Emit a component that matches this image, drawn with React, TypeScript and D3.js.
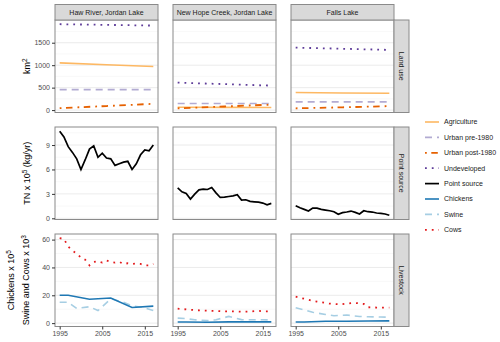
import { useRef, useEffect } from 'react';
import * as d3 from 'd3';

const sites = ['Haw River, Jordan Lake', 'New Hope Creek, Jordan Lake', 'Falls Lake'];
const rowNames = ['Land use', 'Point source', 'Livestock'];
const xTicks = [1995, 2005, 2015];

// land use (km2)
const luYears = [1995, 2006, 2017];
const agriculture = [[1052, 1010, 970], [62, 60, 58], [390, 382, 375]];
const urbanPre = [[456, 456, 456], [147, 147, 147], [183, 183, 183]];
const urbanPost = [[44, 90, 140], [40, 80, 122], [40, 62, 88]];
const undeveloped = [[1912, 1897, 1882], [611, 578, 545], [1390, 1365, 1340]];
const luTicks = [0, 500, 1000, 1500];

// point source TN x 10^5 kg/yr
const psYears = [1995, 1996, 1997, 1998, 1999, 2000, 2001, 2002, 2003, 2004, 2005, 2006,
  2007, 2008, 2009, 2010, 2011, 2012, 2013, 2014, 2015, 2016, 2017];
const pointSource = [
  [10.7, 10.0, 8.8, 8.1, 7.3, 6.0, 7.2, 8.5, 8.9, 7.5, 8.0, 7.4, 7.3, 6.5, 6.7, 6.9, 7.0, 6.0, 6.7, 7.8, 8.4, 8.3, 9.0],
  [3.74, 3.25, 3.05, 2.36, 2.97, 3.5, 3.58, 3.54, 3.79, 3.13, 2.56, 2.6, 2.68, 2.76, 2.89, 2.24, 2.28, 2.08, 2.03, 1.99, 1.87, 1.66, 1.83],
  [1.54, 1.3, 1.1, 0.89, 1.26, 1.25, 1.1, 1.01, 0.93, 0.81, 0.49, 0.69, 0.77, 0.89, 0.73, 0.53, 0.93, 0.81, 0.77, 0.65, 0.61, 0.53, 0.37],
];
const psTicks = [0, 3, 6, 9];

// livestock
const chickenYears = [1995, 1997, 2002, 2007, 2012, 2017];
const chickens = [[20, 20, 17.2, 18, 11.2, 12.2], [0.8, 0.8, 0.6, 0.9, 0.9, 0.9], [0.8, 0.8, 1.3, 1.4, 1.5, 1.6]];
const swineYears = [1995, 1997, 1999, 2002, 2004, 2007, 2010, 2012, 2015, 2017];
const swine = [
  [15, 15, 10.5, 11.8, 9, 17.5, 15, 12.5, 11, 9],
  [3.6, 3.2, 2.4, 1.8, 2.4, 4.8, 2.5, 2.4, 2.4, 2.3],
  [11, 9.5, 7.8, 6.2, 5.3, 5.8, 4.8, 4.6, 4.4, 4.3],
];
const cows = [
  [61, 60.5, 55, 52, 50, 47, 45.5, 41.5, 44, 44.5, 43.5, 45, 44, 43.5, 44, 42.5, 43, 42.5, 42.8, 42.5, 41.5, 41.5, 42.5],
  [10.4, 10.1, 9.9, 9.6, 9.4, 9.2, 9.0, 8.9, 8.8, 8.8, 8.6, 8.5, 8.5, 8.4, 8.3, 8.2, 8.2, 8.3, 8.6, 8.8, 8.5, 8.5, 8.5],
  [19, 18.2, 17.5, 16.8, 16, 15.5, 15, 14.5, 14, 13.8, 13.6, 13.6, 14, 14.3, 14.5, 14.2, 13.8, 11.4, 11.3, 11.2, 11.2, 11.2, 11.2],
];
const lsTicks = [0, 20, 40, 60];

const legendKeys = ['Agriculture', 'Urban pre-1980', 'Urban post-1980', 'Undeveloped', 'Point source', 'Chickens', 'Swine', 'Cows'];

const styles: Record<string, { color: string; dash: string | null; width: number }> = {
  'Agriculture': { color: '#fdb863', dash: null, width: 1.6 },
  'Urban pre-1980': { color: '#b2abd2', dash: '7,5', width: 1.6 },
  'Urban post-1980': { color: '#e66101', dash: '1.8,4.5,6.5,5', width: 1.8 },
  'Undeveloped': { color: '#5e3c99', dash: '1.8,5', width: 1.8 },
  'Point source': { color: '#000000', dash: null, width: 1.7 },
  'Chickens': { color: '#1f78b4', dash: null, width: 1.6 },
  'Swine': { color: '#a6cee3', dash: '7,5', width: 1.6 },
  'Cows': { color: '#e31a1c', dash: '1.8,5', width: 1.8 },
};

const FONT = 'Liberation Sans, Arial, sans-serif';

const App = () => {
  const svgRef = useRef<SVGSVGElement>(null);

  useEffect(() => {
    const svg = d3.select(svgRef.current);
    svg.selectAll('*').remove();

    const colLeft = [55, 173, 291];
    const panelW = 103;
    const rowTop = [20, 127, 234];
    const panelH = 92.5;

    const rows = [
      {
        ticks: luTicks,
        series: [
          { key: 'Agriculture', years: luYears, values: agriculture },
          { key: 'Urban pre-1980', years: luYears, values: urbanPre },
          { key: 'Urban post-1980', years: luYears, values: urbanPost },
          { key: 'Undeveloped', years: luYears, values: undeveloped },
        ],
      },
      {
        ticks: psTicks,
        series: [{ key: 'Point source', years: psYears, values: pointSource }],
      },
      {
        ticks: lsTicks,
        series: [
          { key: 'Swine', years: swineYears, values: swine },
          { key: 'Chickens', years: chickenYears, values: chickens },
          { key: 'Cows', years: psYears, values: cows },
        ],
      },
    ];

    const xr = [1995, 2017];
    const xpad = (xr[1] - xr[0]) * 0.05;

    rows.forEach((row, ri) => {
      const all = row.series.flatMap(s => s.values.flat());
      const [lo, hi] = d3.extent(all) as [number, number];
      const pad = (hi - lo) * 0.05;
      const top = rowTop[ri];
      const y = d3.scaleLinear().domain([lo - pad, hi + pad]).range([top + panelH, top]);
      const minor = row.ticks.slice(0, -1).map((t, i) => (t + row.ticks[i + 1]) / 2)
        .concat([row.ticks[row.ticks.length - 1] + (row.ticks[1] - row.ticks[0]) / 2])
        .filter(v => v < hi + pad);

      sites.forEach((site, ci) => {
        const left = colLeft[ci];
        const x = d3.scaleLinear().domain([xr[0] - xpad, xr[1] + xpad]).range([left, left + panelW]);
        const g = svg.append('g');

        g.append('rect').attr('x', left).attr('y', top).attr('width', panelW).attr('height', panelH)
          .attr('fill', '#fff');

        g.selectAll('.minor').data(minor).enter().append('line')
          .attr('x1', left).attr('x2', left + panelW)
          .attr('y1', d => y(d)).attr('y2', d => y(d))
          .attr('stroke', '#f3f3f3').attr('stroke-width', 0.6);
        g.selectAll('.major').data(row.ticks).enter().append('line')
          .attr('x1', left).attr('x2', left + panelW)
          .attr('y1', d => y(d)).attr('y2', d => y(d))
          .attr('stroke', '#e6e6e6').attr('stroke-width', 0.8);

        row.series.forEach(s => {
          const st = styles[s.key];
          const pts = s.years.map((yr, i) => [yr, s.values[ci][i]] as [number, number]);
          const line = d3.line<[number, number]>().x(d => x(d[0])).y(d => y(d[1]));
          g.append('path').attr('d', line(pts)).attr('fill', 'none')
            .attr('stroke', st.color).attr('stroke-width', st.width)
            .attr('stroke-dasharray', st.dash);
        });

        g.append('rect').attr('x', left).attr('y', top).attr('width', panelW).attr('height', panelH)
          .attr('fill', 'none').attr('stroke', '#8a8a8a').attr('stroke-width', 1);

        // y axis on first column
        if (ci === 0) {
          const ax = g.append('g').attr('transform', `translate(${left},0)`)
            .call(d3.axisLeft(y).tickValues(row.ticks).tickFormat(d3.format('d')).tickSize(3).tickPadding(2));
          ax.select('.domain').remove();
          ax.selectAll('line').attr('stroke', '#333');
          ax.selectAll('text').attr('fill', '#4d4d4d').style('font-size', '7px').style('font-family', FONT);
        }
        // x axis on bottom row
        if (ri === 2) {
          const ax = g.append('g').attr('transform', `translate(0,${top + panelH})`)
            .call(d3.axisBottom(x).tickValues(xTicks).tickFormat(d3.format('d')).tickSize(3).tickPadding(1.5));
          ax.select('.domain').remove();
          ax.selectAll('line').attr('stroke', '#333');
          ax.selectAll('text').attr('fill', '#4d4d4d').style('font-size', '7px').style('font-family', FONT);
        }
        // top strips
        if (ri === 0) {
          g.append('rect').attr('x', left).attr('y', 4.5).attr('width', panelW).attr('height', top - 4.5)
            .attr('fill', '#d9d9d9').attr('stroke', '#8a8a8a').attr('stroke-width', 1);
          g.append('text').attr('x', left + panelW / 2).attr('y', 12.5).attr('dy', '0.35em')
            .attr('text-anchor', 'middle').style('font-size', '7px').style('font-family', FONT)
            .attr('fill', '#1a1a1a').text(site);
        }
        // right strips
        if (ci === 2) {
          const sx = left + panelW;
          g.append('rect').attr('x', sx).attr('y', top).attr('width', 15).attr('height', panelH)
            .attr('fill', '#d9d9d9').attr('stroke', '#8a8a8a').attr('stroke-width', 1);
          g.append('text').attr('transform', `translate(${sx + 7.5},${top + panelH / 2}) rotate(90)`)
            .attr('dy', '0.35em').attr('text-anchor', 'middle').style('font-size', '7px')
            .style('font-family', FONT).attr('fill', '#1a1a1a').text(rowNames[ri]);
        }
      });
    });

    // y titles
    const title = (xPos: number, yPos: number, base: string, sup: string, tail: string) => {
      const t = svg.append('text').attr('transform', `translate(${xPos},${yPos}) rotate(-90)`)
        .attr('text-anchor', 'middle').style('font-size', '9px').style('font-family', FONT).attr('fill', '#000');
      t.append('tspan').text(base);
      t.append('tspan').attr('dy', -3.5).style('font-size', '6.5px').text(sup);
      if (tail) t.append('tspan').attr('dy', 3.5).text(tail);
    };
    title(30, rowTop[0] + panelH / 2, 'km', '2', '');
    title(30, rowTop[1] + panelH / 2, 'TN x 10', '5', ' (kg/yr)');
    title(14, rowTop[2] + panelH / 2, 'Chickens x 10', '5', '');
    title(29, rowTop[2] + panelH / 2, 'Swine and Cows x 10', '3', '');

    // legend
    const lg = svg.append('g').attr('transform', 'translate(424,122)');
    legendKeys.forEach((k, i) => {
      const st = styles[k];
      const yy = i * 15.4;
      lg.append('line').attr('x1', 1).attr('x2', 15).attr('y1', yy).attr('y2', yy)
        .attr('stroke', st.color).attr('stroke-width', st.width)
        .attr('stroke-dasharray', st.dash);
      lg.append('text').attr('x', 20).attr('y', yy).attr('dy', '0.35em')
        .style('font-size', '7px').style('font-family', FONT).attr('fill', '#1a1a1a').text(k);
    });
  }, []);

  return (
    <div style={{ position: 'absolute', left: 0, top: 0 }}>
      <svg ref={svgRef} width={500} height={342} style={{ background: '#fff' }} />
    </div>
  );
};

export default App;
